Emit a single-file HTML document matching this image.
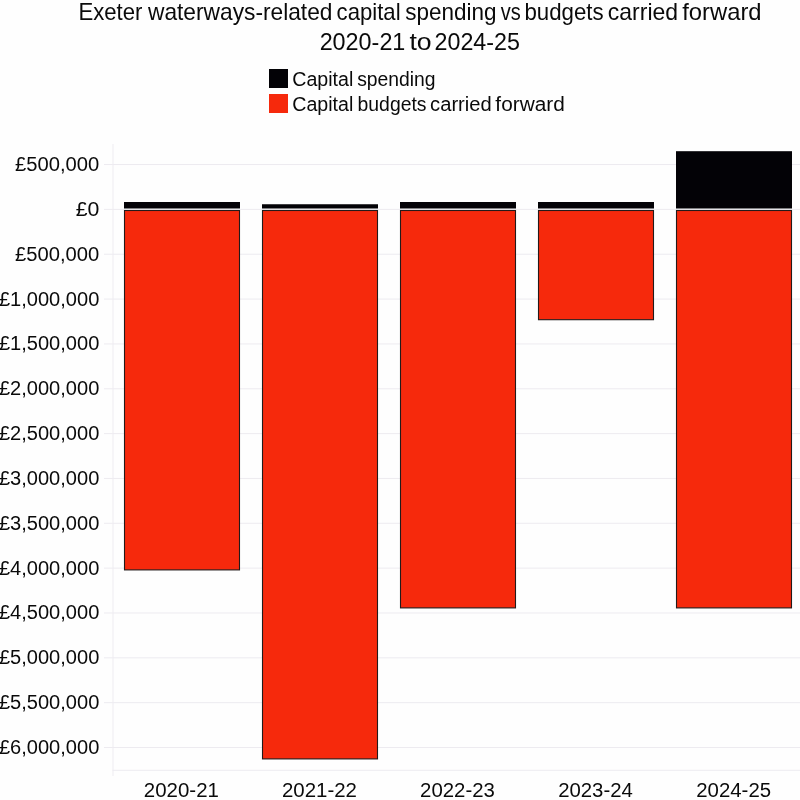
<!DOCTYPE html>
<html><head><meta charset="utf-8"><title>Exeter waterways capital spending</title>
<style>html,body{margin:0;padding:0;background:#fff;width:800px;height:800px;overflow:hidden}svg{display:block;will-change:transform}text{font-family:"Liberation Sans",sans-serif;fill:#0a0a0a}</style></head><body>
<svg width="800" height="800" viewBox="0 0 800 800">
<rect x="0" y="0" width="800" height="800" fill="#fefefe"/>
<line x1="104" y1="164.56" x2="800" y2="164.56" stroke="#edebf0" stroke-width="1"/>
<line x1="104" y1="209.40" x2="800" y2="209.40" stroke="#edebf0" stroke-width="1"/>
<line x1="104" y1="254.24" x2="800" y2="254.24" stroke="#edebf0" stroke-width="1"/>
<line x1="104" y1="299.08" x2="800" y2="299.08" stroke="#edebf0" stroke-width="1"/>
<line x1="104" y1="343.93" x2="800" y2="343.93" stroke="#edebf0" stroke-width="1"/>
<line x1="104" y1="388.77" x2="800" y2="388.77" stroke="#edebf0" stroke-width="1"/>
<line x1="104" y1="433.61" x2="800" y2="433.61" stroke="#edebf0" stroke-width="1"/>
<line x1="104" y1="478.45" x2="800" y2="478.45" stroke="#edebf0" stroke-width="1"/>
<line x1="104" y1="523.29" x2="800" y2="523.29" stroke="#edebf0" stroke-width="1"/>
<line x1="104" y1="568.13" x2="800" y2="568.13" stroke="#edebf0" stroke-width="1"/>
<line x1="104" y1="612.98" x2="800" y2="612.98" stroke="#edebf0" stroke-width="1"/>
<line x1="104" y1="657.82" x2="800" y2="657.82" stroke="#edebf0" stroke-width="1"/>
<line x1="104" y1="702.66" x2="800" y2="702.66" stroke="#edebf0" stroke-width="1"/>
<line x1="104" y1="747.50" x2="800" y2="747.50" stroke="#edebf0" stroke-width="1"/>
<line x1="113" y1="144" x2="113" y2="776" stroke="#eeecf1" stroke-width="1"/>
<line x1="112.5" y1="770.3" x2="800" y2="770.3" stroke="#edebf0" stroke-width="1"/>
<rect x="124" y="202.0" width="116" height="6.50" fill="#030206"/>
<rect x="124.5" y="210.5" width="115" height="359.40" fill="#f6290c" stroke="#231a1a" stroke-width="1.1"/>
<rect x="262" y="204.25" width="116" height="4.25" fill="#030206"/>
<rect x="262.5" y="210.5" width="115" height="548.40" fill="#f6290c" stroke="#231a1a" stroke-width="1.1"/>
<rect x="400" y="202.0" width="116" height="6.50" fill="#030206"/>
<rect x="400.5" y="210.5" width="115" height="397.40" fill="#f6290c" stroke="#231a1a" stroke-width="1.1"/>
<rect x="538" y="202.0" width="116" height="6.50" fill="#030206"/>
<rect x="538.5" y="210.5" width="115" height="109.20" fill="#f6290c" stroke="#231a1a" stroke-width="1.1"/>
<rect x="676" y="151.2" width="116" height="57.30" fill="#030206"/>
<rect x="676.5" y="210.5" width="115" height="397.40" fill="#f6290c" stroke="#231a1a" stroke-width="1.1"/>
<text x="14.99" y="171.06" font-size="19.4" textLength="84.23" lengthAdjust="spacingAndGlyphs">£500,000</text>
<text x="75.66" y="215.90" font-size="19.4" textLength="23.64" lengthAdjust="spacingAndGlyphs">£0</text>
<text x="14.99" y="260.74" font-size="19.4" textLength="84.23" lengthAdjust="spacingAndGlyphs">£500,000</text>
<text x="-1.10" y="305.58" font-size="19.4" textLength="100.40" lengthAdjust="spacingAndGlyphs">£1,000,000</text>
<text x="-1.10" y="350.43" font-size="19.4" textLength="100.40" lengthAdjust="spacingAndGlyphs">£1,500,000</text>
<text x="-1.10" y="395.27" font-size="19.4" textLength="100.40" lengthAdjust="spacingAndGlyphs">£2,000,000</text>
<text x="-1.10" y="440.11" font-size="19.4" textLength="100.40" lengthAdjust="spacingAndGlyphs">£2,500,000</text>
<text x="-1.10" y="484.95" font-size="19.4" textLength="100.40" lengthAdjust="spacingAndGlyphs">£3,000,000</text>
<text x="-1.10" y="529.79" font-size="19.4" textLength="100.40" lengthAdjust="spacingAndGlyphs">£3,500,000</text>
<text x="-1.10" y="574.63" font-size="19.4" textLength="100.40" lengthAdjust="spacingAndGlyphs">£4,000,000</text>
<text x="-1.10" y="619.48" font-size="19.4" textLength="100.40" lengthAdjust="spacingAndGlyphs">£4,500,000</text>
<text x="-1.10" y="664.32" font-size="19.4" textLength="100.40" lengthAdjust="spacingAndGlyphs">£5,000,000</text>
<text x="-1.10" y="709.16" font-size="19.4" textLength="100.40" lengthAdjust="spacingAndGlyphs">£5,500,000</text>
<text x="-1.10" y="754.00" font-size="19.4" textLength="100.40" lengthAdjust="spacingAndGlyphs">£6,000,000</text>
<text x="143.88" y="796.80" font-size="19.7" textLength="75.04" lengthAdjust="spacingAndGlyphs">2020-21</text>
<text x="281.98" y="796.80" font-size="19.7" textLength="75.04" lengthAdjust="spacingAndGlyphs">2021-22</text>
<text x="420.08" y="796.80" font-size="19.7" textLength="74.84" lengthAdjust="spacingAndGlyphs">2022-23</text>
<text x="558.18" y="796.80" font-size="19.7" textLength="74.63" lengthAdjust="spacingAndGlyphs">2023-24</text>
<text x="696.28" y="796.80" font-size="19.7" textLength="74.84" lengthAdjust="spacingAndGlyphs">2024-25</text>
<text x="78.43" y="19.80" font-size="24" textLength="64.02" lengthAdjust="spacingAndGlyphs">Exeter</text>
<text x="148.00" y="19.80" font-size="24" textLength="184.46" lengthAdjust="spacingAndGlyphs">waterways-related</text>
<text x="336.62" y="19.80" font-size="24" textLength="63.95" lengthAdjust="spacingAndGlyphs">capital</text>
<text x="405.33" y="19.80" font-size="24" textLength="91.23" lengthAdjust="spacingAndGlyphs">spending</text>
<text x="500.80" y="19.80" font-size="24" textLength="20.00" lengthAdjust="spacingAndGlyphs">vs</text>
<text x="524.44" y="19.80" font-size="24" textLength="79.17" lengthAdjust="spacingAndGlyphs">budgets</text>
<text x="607.83" y="19.80" font-size="24" textLength="70.20" lengthAdjust="spacingAndGlyphs">carried</text>
<text x="682.26" y="19.80" font-size="24" textLength="79.27" lengthAdjust="spacingAndGlyphs">forward</text>
<text x="319.63" y="49.80" font-size="24" textLength="85.74" lengthAdjust="spacingAndGlyphs">2020-21</text>
<text x="409.47" y="49.80" font-size="24" textLength="22.21" lengthAdjust="spacingAndGlyphs">to</text>
<text x="434.54" y="49.80" font-size="24" textLength="85.39" lengthAdjust="spacingAndGlyphs">2024-25</text>
<rect x="269" y="69" width="19" height="19" fill="#030206"/>
<rect x="269" y="94" width="19" height="19" fill="#f6290c"/>
<text x="292.27" y="85.50" font-size="19.5" textLength="61.06" lengthAdjust="spacingAndGlyphs">Capital</text>
<text x="357.17" y="85.50" font-size="19.5" textLength="78.42" lengthAdjust="spacingAndGlyphs">spending</text>
<text x="292.27" y="110.50" font-size="19.5" textLength="61.06" lengthAdjust="spacingAndGlyphs">Capital</text>
<text x="357.54" y="110.50" font-size="19.5" textLength="69.01" lengthAdjust="spacingAndGlyphs">budgets</text>
<text x="430.09" y="110.50" font-size="19.5" textLength="61.65" lengthAdjust="spacingAndGlyphs">carried</text>
<text x="495.39" y="110.50" font-size="19.5" textLength="69.35" lengthAdjust="spacingAndGlyphs">forward</text>
</svg></body></html>
